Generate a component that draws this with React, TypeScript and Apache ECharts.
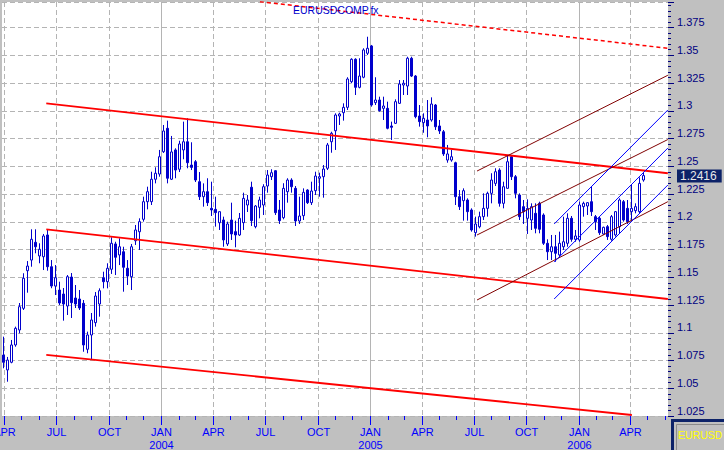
import React, { useEffect, useRef } from "react";
import * as echarts from "echarts";

// ---------- data ----------
const FIRST_WEEK = "2003-03-31"; // weekly bars, one per week from this Monday
const OPEN = [
  1.0799, 1.0665, 1.0734, 1.089, 1.1025, 1.122, 1.1559, 1.1655, 1.1815, 1.1692,
  1.1685, 1.1881, 1.1595, 1.1421, 1.1385, 1.1349, 1.1241, 1.1502, 1.1313, 1.1304,
  1.1265, 1.0851, 1.098, 1.1091, 1.1259, 1.1496, 1.146, 1.1572, 1.18, 1.1701,
  1.173, 1.1581, 1.1505, 1.1829, 1.191, 1.2022, 1.2181, 1.2181, 1.2383, 1.243,
  1.2631, 1.2842, 1.2383, 1.2647, 1.2473, 1.2647, 1.2721, 1.2511, 1.2541, 1.2361,
  1.2226, 1.2271, 1.2121, 1.2112, 1.1991, 1.2016, 1.18, 1.2016, 1.1911, 1.1881,
  1.1992, 1.2151, 1.2311, 1.1956, 1.213, 1.2151, 1.2322, 1.2406, 1.246, 1.2106,
  1.2037, 1.2271, 1.2376, 1.2301, 1.2007, 1.2055, 1.2286, 1.2172, 1.228, 1.2392,
  1.2406, 1.2482, 1.2721, 1.282, 1.2953, 1.2983, 1.3031, 1.3262, 1.3464, 1.3211,
  1.3302, 1.3518, 1.3584, 1.3073, 1.3097, 1.3022, 1.3022, 1.2863, 1.2887, 1.3067,
  1.3232, 1.3223, 1.3473, 1.3313, 1.2953, 1.2893, 1.2917, 1.2917, 1.3052, 1.2863,
  1.2811, 1.2556, 1.2556, 1.2532, 1.2226, 1.219, 1.2196, 1.2106, 1.1902, 1.1955,
  1.2046, 1.2121, 1.2256, 1.2346, 1.2466, 1.2166, 1.2301, 1.2586, 1.2406, 1.2241,
  1.2136, 1.2031, 1.2016, 1.2076, 1.2166, 1.2061, 1.1806, 1.173, 1.1775, 1.1701,
  1.1775, 1.1806, 1.2031, 1.1842, 1.1836, 1.2136, 1.2142, 1.2181, 1.2046, 1.2031,
  1.189, 1.1956, 1.1842, 1.1881, 1.1956, 1.2181, 1.2121, 1.2091, 1.21, 1.2091,
  1.2376,
];
const CLOSE = [
  1.0734, 1.0754, 1.089, 1.104, 1.1235, 1.1491, 1.1601, 1.1842, 1.1775, 1.1752,
  1.1872, 1.1595, 1.1421, 1.1496, 1.1268, 1.1259, 1.1505, 1.1271, 1.1259, 1.1223,
  1.089, 1.098, 1.1115, 1.1331, 1.1379, 1.146, 1.1581, 1.1806, 1.168, 1.1775,
  1.159, 1.1511, 1.1775, 1.1926, 1.2001, 1.2181, 1.2271, 1.2383, 1.2437, 1.2586,
  1.2818, 1.2392, 1.2629, 1.2466, 1.2701, 1.2721, 1.2532, 1.249, 1.2376, 1.2226,
  1.2271, 1.2172, 1.2106, 1.2082, 1.2091, 1.1836, 1.198, 1.189, 1.1881, 1.2031,
  1.2211, 1.2196, 1.201, 1.2142, 1.2196, 1.2316, 1.2421, 1.2442, 1.2082, 1.201,
  1.2301, 1.2376, 1.2316, 1.2007, 1.2052, 1.2265, 1.2172, 1.2277, 1.2412, 1.2406,
  1.2475, 1.2692, 1.2797, 1.2962, 1.2971, 1.3031, 1.3286, 1.3464, 1.3211, 1.3313,
  1.3548, 1.3563, 1.3052, 1.3097, 1.3001, 1.3043, 1.2842, 1.2851, 1.3082, 1.3241,
  1.3248, 1.3473, 1.3313, 1.2947, 1.2902, 1.2932, 1.2863, 1.3061, 1.2856, 1.2818,
  1.2611, 1.2611, 1.2586, 1.2226, 1.2136, 1.228, 1.2091, 1.1926, 1.198, 1.2046,
  1.2121, 1.2256, 1.2376, 1.2451, 1.2166, 1.2316, 1.2541, 1.2406, 1.2256, 1.2046,
  1.2091, 1.2121, 1.2136, 1.1941, 1.1932, 1.1806, 1.173, 1.1775, 1.1716, 1.1806,
  1.182, 1.2031, 1.1842, 1.1872, 1.2151, 1.2166, 1.2172, 1.2091, 1.2001, 1.1901,
  1.195, 1.1866, 1.2046, 1.2091, 1.2196, 1.2016, 1.2001, 1.2121, 1.2136, 1.2346,
  1.2416,
];
const LOW = [
  1.068, 1.0559, 1.0725, 1.0874, 1.0995, 1.1205, 1.1361, 1.1595, 1.1716, 1.1626,
  1.1565, 1.1559, 1.1401, 1.134, 1.125, 1.1109, 1.116, 1.1133, 1.1223, 1.1205,
  1.0829, 1.0815, 1.0755, 1.1055, 1.1145, 1.14, 1.14, 1.153, 1.152, 1.161,
  1.137, 1.143, 1.1385, 1.1791, 1.1746, 1.2001, 1.2112, 1.2151, 1.2346, 1.2406,
  1.262, 1.2346, 1.2376, 1.2392, 1.2448, 1.2563, 1.2482, 1.2466, 1.2358, 1.2196,
  1.2136, 1.2142, 1.2052, 1.1956, 1.1926, 1.1775, 1.1782, 1.1836, 1.177, 1.1872,
  1.1926, 1.2088, 1.1962, 1.1941, 1.2031, 1.2061, 1.2262, 1.2376, 1.2061, 1.198,
  1.2022, 1.2172, 1.2262, 1.1962, 1.198, 1.2016, 1.216, 1.2151, 1.2241, 1.2226,
  1.2217, 1.2466, 1.2622, 1.2647, 1.2872, 1.2911, 1.3007, 1.3248, 1.3142, 1.3202,
  1.3293, 1.3502, 1.3037, 1.3052, 1.2992, 1.2917, 1.2833, 1.2737, 1.2881, 1.3061,
  1.3142, 1.3142, 1.3304, 1.2932, 1.2857, 1.2802, 1.2761, 1.2902, 1.2827, 1.2791,
  1.2593, 1.2532, 1.2541, 1.2151, 1.2106, 1.201, 1.201, 1.1911, 1.1866, 1.1941,
  1.2016, 1.2046, 1.2166, 1.2322, 1.2136, 1.2121, 1.2301, 1.2376, 1.2211, 1.2016,
  1.198, 1.189, 1.1926, 1.1896, 1.1896, 1.1791, 1.1655, 1.1655, 1.164, 1.168,
  1.1746, 1.1775, 1.182, 1.182, 1.182, 1.2046, 1.2061, 1.2052, 1.1926, 1.1881,
  1.1881, 1.1836, 1.1829, 1.1866, 1.1896, 1.2001, 1.198, 1.2016, 1.2076, 1.2076,
  1.2361,
];
const HIGH = [
  1.0965, 1.0782, 1.0935, 1.1055, 1.1268, 1.1536, 1.1646, 1.1932, 1.1932, 1.1806,
  1.189, 1.1932, 1.1655, 1.161, 1.146, 1.1403, 1.152, 1.1538, 1.143, 1.1385,
  1.1295, 1.101, 1.1178, 1.1367, 1.14, 1.155, 1.1626, 1.186, 1.182, 1.1851,
  1.1775, 1.1655, 1.18, 1.1971, 1.2031, 1.2226, 1.2316, 1.2451, 1.2491, 1.2647,
  1.2872, 1.2911, 1.2773, 1.2662, 1.273, 1.2902, 1.2932, 1.2716, 1.2556, 1.2448,
  1.2346, 1.2392, 1.2361, 1.2226, 1.2091, 1.2046, 1.2001, 1.2172, 1.201, 1.2079,
  1.2262, 1.2241, 1.2361, 1.2151, 1.2226, 1.2338, 1.2466, 1.2473, 1.2466, 1.2196,
  1.2347, 1.2392, 1.2392, 1.2322, 1.2226, 1.2301, 1.2293, 1.2361, 1.2451, 1.2442,
  1.2511, 1.271, 1.2811, 1.2977, 1.2983, 1.3067, 1.3302, 1.3473, 1.3473, 1.3473,
  1.3563, 1.3667, 1.3593, 1.3302, 1.3127, 1.3127, 1.3082, 1.2902, 1.3103, 1.3277,
  1.3277, 1.3487, 1.3487, 1.3322, 1.3052, 1.2977, 1.3097, 1.3121, 1.3061, 1.2917,
  1.2827, 1.2692, 1.2647, 1.2541, 1.2286, 1.2301, 1.2211, 1.2121, 1.2046, 1.2091,
  1.2256, 1.2271, 1.2437, 1.2482, 1.2482, 1.2361, 1.2602, 1.2602, 1.2421, 1.2256,
  1.2196, 1.2202, 1.2166, 1.2166, 1.2181, 1.2076, 1.1842, 1.1881, 1.1881, 1.1911,
  1.2046, 1.2076, 1.2052, 1.1926, 1.2181, 1.2181, 1.2176, 1.2322, 1.2061, 1.2046,
  1.1956, 1.1971, 1.2061, 1.2097, 1.2211, 1.2196, 1.2196, 1.2331, 1.2166, 1.24,
  1.2442,
];

// axis
const X_START = "2003-03-28T12:00:00Z";
const X_END = "2006-06-06T06:00:00Z";
const Y_MIN = 1.025;
const Y_MAX = 1.398;
const Y_STEP = 0.025;
const MONTH_NAMES = ["JAN", "FEB", "MAR", "APR", "MAY", "JUN", "JUL", "AUG", "SEP", "OCT", "NOV", "DEC"];
const FIRST_MONTH = [2003, 3]; // April 2003
const LAST_MONTH = [2006, 5]; // June 2006

// trend lines [date, price]
const RED_LINES = [
  [["2003-06-14", 1.3067], ["2006-06-06", 1.2437]],
  [["2003-06-14", 1.1932], ["2006-06-06", 1.1304]],
  [["2003-06-14", 1.08], ["2006-04-04", 1.0259]],
];
const RED_DASHED_LINE = [["2004-06-22", 1.3983], ["2006-06-06", 1.3563]];
const MAROON_LINES = [
  [["2005-07-07", 1.2457], ["2006-06-06", 1.332]],
  [["2005-07-07", 1.1881], ["2006-06-06", 1.2741]],
  [["2005-07-07", 1.1295], ["2006-06-06", 1.2181]],
];
const BLUE_LINES = [
  [["2005-11-19", 1.198], ["2006-06-06", 1.3007]],
  [["2005-11-19", 1.1637], ["2006-06-06", 1.2664]],
  [["2005-11-19", 1.1304], ["2006-06-06", 1.2331]],
];

const TITLE = "EURUSDCOMP.fx";
const SYMBOL = "EURUSD";

// ---------- helpers ----------
const DAY = 86400000;
const ts = (s: string) => (s.length <= 10 ? Date.parse(s + "T00:00:00Z") : Date.parse(s));
const FONT = 'Arial, "Liberation Sans", sans-serif';
const CANDLE_BLUE = "#0000cc";

function staticGraphics() {
  return [
    {
      id: "title",
      type: "text",
      left: 293,
      top: 4,
      z: 10,
      style: { text: TITLE, fill: "#0000cc", fontSize: 10.5, fontFamily: FONT },
    },
    {
      id: "boxOuter",
      type: "rect",
      z: 10,
      shape: { x: 672.5, y: 420.5, width: 60, height: 40 },
      style: { fill: "#c0c0c0", stroke: "#0c2268", lineWidth: 3 },
    },
    {
      id: "boxInner",
      type: "rect",
      z: 10,
      shape: { x: 676.5, y: 424.5, width: 60, height: 30 },
      style: { fill: "#c0c0c0", stroke: "#8a8a8a", lineWidth: 1 },
    },
    {
      id: "boxText",
      type: "text",
      z: 11,
      x: 678,
      y: 435,
      style: {
        text: SYMBOL,
        fill: "#ffff00",
        fontSize: 10.5,
        fontFamily: FONT,
        verticalAlign: "middle",
      },
    },
  ];
}

function buildOption() {
  const w0 = ts(FIRST_WEEK);
  const candles = OPEN.map((o, i) => [w0 + i * 7 * DAY, o, CLOSE[i], LOW[i], HIGH[i]]);

  const months: number[][] = [];
  let y = FIRST_MONTH[0];
  let m = FIRST_MONTH[1];
  while (y < LAST_MONTH[0] || (y === LAST_MONTH[0] && m <= LAST_MONTH[1])) {
    months.push([Date.UTC(y, m, 1), Y_MIN, m, y]);
    m++;
    if (m > 11) {
      m = 0;
      y++;
    }
  }

  const seg = (pts: any[]) => pts.map(([d, v]) => [ts(d), v]);
  const lineSeries = (pts: any[], color: string, width: number, dash?: number[]) => ({
    type: "line",
    data: seg(pts),
    symbol: "none",
    silent: true,
    z: 4,
    lineStyle: { color, width, type: dash || "solid" },
  });

  return {
    animation: false,
    backgroundColor: "#c0c0c0",
    grid: {
      left: 2,
      right: 56,
      top: 2,
      bottom: 34,
      show: true,
      backgroundColor: "#ffffff",
      borderWidth: 0,
    },
    xAxis: {
      type: "time",
      min: ts(X_START),
      max: ts(X_END),
      axisLine: { show: false },
      axisTick: { show: false },
      axisLabel: { show: false },
      splitLine: { show: false },
    },
    yAxis: {
      type: "value",
      position: "right",
      min: Y_MIN,
      max: Y_MAX,
      interval: Y_STEP,
      axisLine: { show: false },
      axisTick: { show: true, length: 6, lineStyle: { color: "#000080" } },
      minorTick: { show: true, splitNumber: 5, length: 3, lineStyle: { color: "#000080" } },
      axisLabel: {
        color: "#000080",
        fontSize: 11,
        fontFamily: FONT,
        margin: 9,
        verticalAlign: "bottom",
        lineHeight: 11,
        showMaxLabel: false,
        formatter: (v: number) => {
          const k = (v - Y_MIN) / Y_STEP;
          return Math.abs(k - Math.round(k)) < 1e-6 ? String(+v.toFixed(3)) : "";
        },
      },
      splitLine: { show: true, lineStyle: { color: "#b4b4b4", type: [5, 3] } },
    },
    graphic: staticGraphics(),
    series: [
      {
        type: "custom",
        z: 1,
        silent: true,
        clip: false,
        data: months,
        encode: { x: 0, y: 1 },
        renderItem: (params: any, api: any) => {
          const t = api.value(0);
          const mon = api.value(2);
          const yr = api.value(3);
          const p = api.coord([t, Y_MIN]);
          const x = Math.round(p[0]) + 0.5;
          const cs = params.coordSys;
          const top = cs.y;
          const bottom = cs.y + cs.height;
          const quarter = mon % 3 === 0;
          const children: any[] = [];
          if (quarter) {
            children.push({
              type: "line",
              shape: { x1: x, y1: top, x2: x, y2: bottom },
              style: {
                stroke: "#b4b4b4",
                lineWidth: 1,
                lineDash: mon === 0 ? null : [5, 3],
              },
            });
          }
          children.push({
            type: "line",
            shape: { x1: x, y1: bottom, x2: x, y2: bottom + (quarter ? 9 : 4) },
            style: { stroke: "#0000ff", lineWidth: 1 },
          });
          if (quarter) {
            children.push({
              type: "text",
              x: x,
              y: bottom + 16,
              style: {
                text: MONTH_NAMES[mon],
                fill: "#0000ff",
                fontSize: 11,
                fontFamily: FONT,
                align: "center",
                verticalAlign: "middle",
              },
            });
          }
          if (mon === 0) {
            children.push({
              type: "text",
              x: x,
              y: bottom + 29,
              style: {
                text: String(yr),
                fill: "#0000ff",
                fontSize: 11,
                fontFamily: FONT,
                align: "center",
                verticalAlign: "middle",
              },
            });
          }
          return { type: "group", children };
        },
      },
      {
        type: "candlestick",
        z: 3,
        data: candles,
        encode: { x: 0, y: [1, 2, 3, 4] },
        barWidth: 3,
        itemStyle: {
          color: "#ffffff",
          color0: CANDLE_BLUE,
          borderColor: CANDLE_BLUE,
          borderColor0: CANDLE_BLUE,
          borderWidth: 1,
        },
      },
      ...RED_LINES.map((s) => lineSeries(s, "#ff0000", 1.8)),
      lineSeries(RED_DASHED_LINE, "#ff0000", 1.5, [4, 3]),
      ...MAROON_LINES.map((s) => lineSeries(s, "#800000", 1)),
      ...BLUE_LINES.map((s) => lineSeries(s, "#0000ff", 1)),
    ],
  };
}

export default function App() {
  const ref = useRef<HTMLDivElement>(null);
  useEffect(() => {
    document.body.style.margin = "0";
    const chart = echarts.init(ref.current!, null, { renderer: "svg" });
    chart.setOption(buildOption() as any);
    // last-price tag placed through the value axis
    const last = CLOSE[CLOSE.length - 1];
    const yPix = chart.convertToPixel({ yAxisIndex: 0 }, last) as number;
    chart.setOption({
      graphic: [
        ...staticGraphics(),
        {
          id: "lastPrice",
          type: "text",
          z: 12,
          x: 677,
          y: Math.round(yPix),
          style: {
            text: last.toFixed(4),
            fill: "#e8e8e8",
            backgroundColor: "#0c2268",
            padding: [1, 5, 0, 3],
            fontSize: 12,
            lineHeight: 12,
            fontFamily: FONT,
            verticalAlign: "middle",
          },
        },
      ],
    } as any);
    return () => chart.dispose();
  }, []);
  return <div ref={ref} style={{ width: 724, height: 450 }} />;
}
